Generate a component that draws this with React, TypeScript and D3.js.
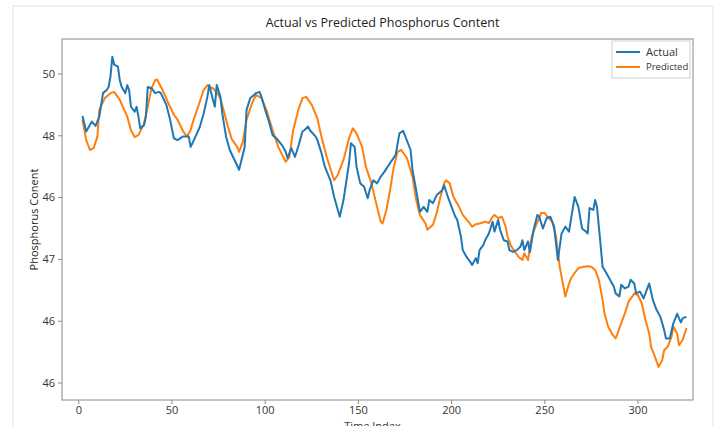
import React from "react";
import * as d3 from "d3";

const actualIdx = [2,4,7,9,11,13,15,16,17,18,19,21,22,23,25,26,27,28,30,31,32,33,35,36,37,39,41,43,44,47,49,51,53,56,59,60,61,63,65,67,69,70,72,73,74,76,77,79,81,84,86,89,90,92,94,95,97,98,100,102,104,106,109,111,112,114,116,118,120,121,123,124,127,128,130,132,135,137,140,142,145,146,148,149,151,153,155,156,158,160,162,164,167,170,172,174,178,179,181,183,185,187,188,190,192,195,196,198,200,202,203,205,206,208,210,211,213,214,215,217,218,220,222,223,225,226,228,230,231,233,235,237,238,239,241,242,244,246,247,249,251,253,255,257,259,261,263,264,266,268,270,272,273,274,276,277,278,280,281,283,285,287,288,290,291,293,295,296,298,299,301,303,304,305,306,308,310,312,314,315,317,319,321,323,324,326];
const actualVal = [49.32,49.07,49.23,49.16,49.31,49.69,49.74,49.79,49.96,50.28,50.15,50.12,49.90,49.79,49.69,49.82,49.74,49.47,49.39,49.47,49.31,49.12,49.17,49.31,49.79,49.77,49.69,49.71,49.69,49.50,49.26,48.96,48.93,48.99,48.99,48.82,48.88,49.01,49.15,49.36,49.63,49.82,49.58,49.47,49.82,49.63,49.36,48.99,48.77,48.58,48.45,48.82,49.42,49.61,49.66,49.69,49.71,49.63,49.42,49.23,49.01,48.96,48.85,48.74,48.64,48.80,48.66,48.85,49.07,49.09,49.15,49.09,48.99,48.93,48.74,48.50,48.28,48.01,47.69,47.96,48.56,48.88,48.82,48.50,48.23,48.18,47.99,48.12,48.28,48.23,48.34,48.42,48.56,48.69,49.04,49.08,48.77,48.45,48.12,47.77,47.85,47.77,47.96,47.91,48.04,48.12,48.20,48.01,47.85,47.69,47.64,47.37,47.15,47.04,46.96,46.91,47.02,46.94,47.15,47.23,47.31,47.42,47.61,47.45,47.64,47.48,47.31,47.29,47.15,47.12,47.15,47.21,47.31,47.15,47.29,47.12,47.48,47.72,47.69,47.50,47.67,47.69,47.53,46.99,47.42,47.53,47.45,47.64,48.01,47.85,47.50,47.45,47.42,47.83,47.80,47.96,47.85,47.21,46.88,46.78,46.67,46.56,46.45,46.40,46.59,46.53,46.56,46.67,46.61,46.45,46.48,46.37,46.45,46.53,46.61,46.34,46.18,46.07,45.86,45.72,45.72,45.97,46.12,45.98,46.05,46.07];

const predictedIdx = [2,4,6,8,10,11,14,17,19,22,26,28,30,32,35,37,39,41,42,43,45,48,51,53,56,58,60,61,64,67,69,70,72,75,76,78,80,82,85,86,88,90,93,95,98,101,104,107,110,111,113,115,118,120,122,125,128,130,133,136,137,139,142,145,147,149,152,154,157,160,162,163,165,167,169,171,173,176,179,181,183,186,187,190,192,194,196,197,199,201,204,206,209,211,213,215,218,220,222,223,225,227,229,230,232,234,236,238,239,241,243,245,247,248,250,252,254,256,258,260,261,263,264,266,268,271,273,275,277,279,281,282,284,286,288,289,291,293,295,297,298,300,302,304,306,307,309,311,313,314,316,318,319,321,322,324,326];
const predictedVal = [49.26,48.93,48.77,48.80,48.99,49.42,49.61,49.69,49.71,49.58,49.31,49.09,48.98,49.01,49.20,49.47,49.77,49.90,49.91,49.85,49.74,49.53,49.34,49.26,49.07,48.99,49.09,49.20,49.47,49.74,49.82,49.79,49.77,49.66,49.60,49.38,49.15,48.95,48.82,48.74,48.90,49.26,49.53,49.66,49.61,49.39,49.09,48.82,48.64,48.58,48.66,49.09,49.44,49.61,49.63,49.50,49.28,49.01,48.66,48.37,48.28,48.37,48.61,48.96,49.12,49.04,48.82,48.50,48.23,47.85,47.61,47.58,47.80,48.12,48.50,48.74,48.77,48.64,48.34,47.96,47.72,47.58,47.48,47.56,47.75,48.01,48.23,48.28,48.23,48.01,47.85,47.72,47.61,47.53,47.57,47.58,47.61,47.59,47.69,47.72,47.67,47.69,47.53,47.37,47.21,47.12,47.04,46.99,47.10,46.99,47.37,47.53,47.67,47.75,47.75,47.67,47.61,47.37,46.88,46.56,46.40,46.61,46.69,46.78,46.86,46.88,46.89,46.88,46.83,46.67,46.34,46.13,45.91,45.80,45.72,45.80,45.97,46.13,46.32,46.40,46.45,46.42,46.29,46.02,45.80,45.59,45.43,45.26,45.37,45.53,45.59,45.75,45.91,45.80,45.61,45.70,45.89];

const xTicks = [0, 50, 100, 150, 200, 250, 300];
const yTickValues = [50, 49, 48, 47, 46, 45];
const yTickLabels = ["50", "48", "46", "47", "46", "46"];

const W = 718, H = 426;
const L = 62, R = 693, T = 39, B = 400;
const FONT = "'Open Sans', 'DejaVu Sans', sans-serif";
const BLUE = "#1f77b4", ORANGE = "#ff7f0e";

export default function App() {
  const x = d3.scaleLinear().domain([-9, 329.5]).range([L, R]);
  const y = d3.scaleLinear().domain([44.725, 50.566]).range([B, T]);
  const line = d3.line<[number, number]>().x(d => x(d[0])).y(d => y(d[1]));
  const actual = actualIdx.map((v, i) => [v, actualVal[i]] as [number, number]);
  const predicted = predictedIdx.map((v, i) => [v, predictedVal[i]] as [number, number]);
  return (
    <svg width={W} height={H} style={{ position: "absolute", left: 0, top: 0, background: "#fff" }} fontFamily={FONT}>
      <rect x={13} y={6} width={700} height={440} fill="#fff" stroke="#e2e2e2" strokeWidth={1} />
      <text x={(L + R) / 2 + 5} y={27} textAnchor="middle" fontSize={12.5} fill="#222">Actual vs Predicted Phosphorus Content</text>
      <clipPath id="clip"><rect x={L} y={T} width={R - L} height={B - T} /></clipPath>
      <g clipPath="url(#clip)">
        <path d={line(predicted) || ""} fill="none" stroke={ORANGE} strokeWidth={2} strokeLinejoin="round" />
        <path d={line(actual) || ""} fill="none" stroke={BLUE} strokeWidth={2} strokeLinejoin="round" />
      </g>
      <rect x={L} y={T} width={R - L} height={B - T} fill="none" stroke="#8a8a8a" strokeWidth={1} />
      {yTickValues.map((v, i) => (
        <g key={"y" + i}>
          <line x1={L - 4} x2={L} y1={y(v)} y2={y(v)} stroke="#8a8a8a" />
          <text x={L - 7} y={y(v)} dy="0.35em" textAnchor="end" fontSize={11} fill="#333">{yTickLabels[i]}</text>
        </g>
      ))}
      {xTicks.map((v) => (
        <g key={"x" + v}>
          <line x1={x(v)} x2={x(v)} y1={B} y2={B + 4} stroke="#8a8a8a" />
          <text x={x(v)} y={B + 14} textAnchor="middle" fontSize={11} fill="#333">{v}</text>
        </g>
      ))}
      <text x={(L + R) / 2 - 5} y={430} textAnchor="middle" fontSize={11} fill="#333">Time Index</text>
      <text transform={`translate(38, ${(T + B) / 2}) rotate(-90)`} textAnchor="middle" fontSize={11} fill="#222">Phosphorus Conent</text>
      <rect x={612} y={41} width={78} height={37} fill="#fff" stroke="#d0d0d0" strokeWidth={1} />
      <line x1={616} x2={640} y1={52} y2={52} stroke={BLUE} strokeWidth={2} />
      <text x={646} y={52} dy="0.35em" fontSize={11} fill="#333">Actual</text>
      <line x1={616} x2={640} y1={67} y2={67} stroke={ORANGE} strokeWidth={2} />
      <text x={646} y={67} dy="0.35em" fontSize={9.5} fill="#333">Predicted</text>
    </svg>
  );
}
